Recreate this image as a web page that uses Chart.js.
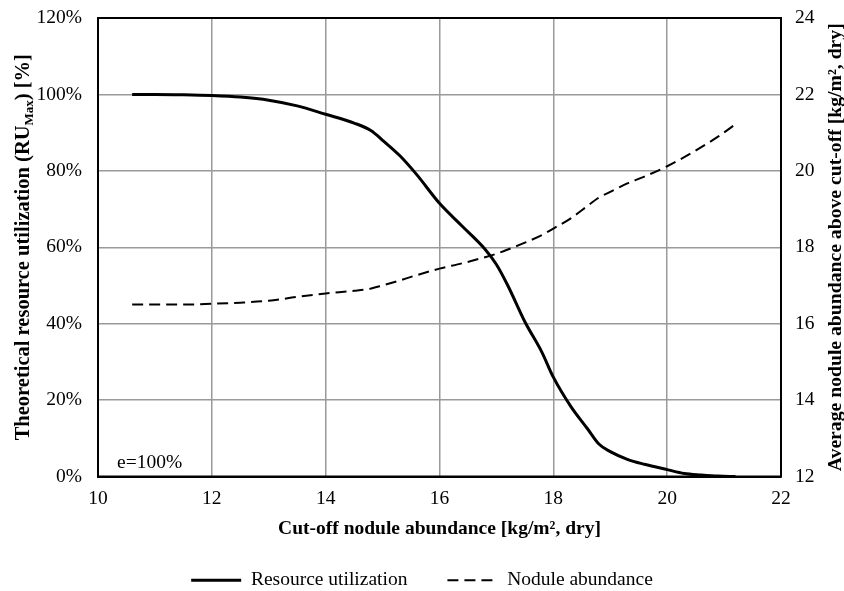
<!DOCTYPE html>
<html>
<head>
<meta charset="utf-8">
<script src="https://cdn.jsdelivr.net/npm/chart.js@4"></script>
<style>
  body { margin: 0; background: #fff; }
  canvas { display: block; }
</style>
</head>
<body>
<canvas id="cutoffChart" width="844" height="591"></canvas>
<script>
// --- data ---
const cutOff = [10.6, 11.0, 11.5, 12.0, 12.5, 13.0, 13.5, 14.0, 14.5, 14.8, 15.0, 15.3, 15.6, 16.0,
    16.4, 16.8, 17.0, 17.2, 17.5, 17.8, 18.0, 18.3, 18.6, 18.8, 19.0, 19.3, 19.6, 20.0, 20.3, 20.6, 20.9, 21.2];
const resourceUtil = [100, 100, 99.9, 99.7, 99.3, 98.5, 97.0, 94.8, 92.5, 90.5, 88.0, 84.0, 79.0, 71.5,
    65.5, 59.5, 55.5, 50.0, 40.5, 32.5, 26.0, 18.5, 12.5, 8.5, 6.5, 4.5, 3.2, 1.8, 0.8, 0.4, 0.1, 0.0];
const noduleAbund = [16.5, 16.5, 16.5, 16.52, 16.55, 16.6, 16.7, 16.79, 16.86, 16.92, 17.0, 17.13, 17.27, 17.44,
    17.58, 17.74, 17.83, 17.94, 18.12, 18.32, 18.49, 18.75, 19.08, 19.3, 19.45, 19.67, 19.85, 20.12, 20.36, 20.62, 20.9, 21.22];

const FONT = "'Liberation Serif', 'Times New Roman', serif";
const GRID = "#9a9a9a";
const TICK_SIZE = 19.5;

// titles are drawn by hand: left one needs a subscript, right one reads bottom-to-top
const titlesPlugin = {
    id: "titles",
    afterDraw(chart) {
        const ctx = chart.ctx;
        const a = chart.chartArea;
        ctx.save();
        // full frame around plot
        ctx.strokeStyle = "#000";
        ctx.lineWidth = 2;
        ctx.strokeRect(a.left, a.top, a.right - a.left, a.bottom - a.top);

        ctx.fillStyle = "#000";
        const midY = (a.top + a.bottom) / 2;

        // left axis title
        const p1 = "Theoretical resource utilization (RU";
        const sub = "Max";
        const p3 = ") [%]";
        ctx.save();
        ctx.translate(29, midY);
        ctx.rotate(-Math.PI / 2);
        ctx.textBaseline = "alphabetic";
        ctx.textAlign = "left";
        ctx.font = "bold 20.5px " + FONT;
        const w1 = ctx.measureText(p1).width;
        const w3 = ctx.measureText(p3).width;
        ctx.font = "bold 13px " + FONT;
        const w2 = ctx.measureText(sub).width;
        let x = -(w1 + w2 + w3) / 2;
        ctx.font = "bold 20.5px " + FONT;
        ctx.fillText(p1, x, 0);
        x += w1;
        ctx.font = "bold 13px " + FONT;
        ctx.fillText(sub, x, 4);
        x += w2;
        ctx.font = "bold 20.5px " + FONT;
        ctx.fillText(p3, x, 0);
        ctx.restore();

        // right axis title
        ctx.save();
        ctx.translate(841, midY);
        ctx.rotate(-Math.PI / 2);
        ctx.textAlign = "center";
        ctx.textBaseline = "alphabetic";
        ctx.font = "bold 19.7px " + FONT;
        ctx.fillText("Average nodule abundance above cut-off [kg/m\u00b2, dry]", 0, 0);
        ctx.restore();

        // efficiency note
        ctx.font = TICK_SIZE + "px " + FONT;
        ctx.textAlign = "left";
        ctx.textBaseline = "alphabetic";
        ctx.fillText("e=100%", 117, 468);
        ctx.restore();
    }
};

// keep tick-label overhang from pushing the plot area around
function noPad(s) {
    s.paddingTop = 0;
    s.paddingBottom = 0;
    s.paddingLeft = 0;
    s.paddingRight = 0;
}

const ctxCut = document.getElementById("cutoffChart").getContext("2d");

new Chart(ctxCut, {
    type: "line",
    data: {
        datasets: [
            {
                label: "Resource utilization",
                data: cutOff.map((c, i) => ({ x: c, y: resourceUtil[i] })),
                borderColor: "#000",
                backgroundColor: "#000",
                borderWidth: 3,
                pointRadius: 0,
                cubicInterpolationMode: "monotone",
                yAxisID: "y",
            },
            {
                label: "Nodule abundance",
                data: cutOff.map((c, i) => ({ x: c, y: noduleAbund[i] })),
                borderColor: "#000",
                backgroundColor: "#000",
                borderWidth: 2,
                borderDash: [11, 6],
                pointRadius: 0,
                cubicInterpolationMode: "monotone",
                yAxisID: "y1",
            },
        ],
    },
    options: {
        responsive: false,
        animation: false,
        layout: { padding: { left: 0, right: 0, top: 18, bottom: -9 } },
        scales: {
            x: {
                type: "linear",
                min: 10,
                max: 22,
                ticks: { stepSize: 2, padding: 11, color: "#000", font: { family: FONT, size: TICK_SIZE } },
                grid: { color: GRID, lineWidth: 1.5, drawTicks: false },
                border: { color: "#000", width: 2 },
                title: {
                    display: true,
                    text: "Cut-off nodule abundance [kg/m\u00b2, dry]",
                    color: "#000",
                    font: { family: FONT, size: 19.5, weight: "bold" },
                    padding: { top: 0, bottom: -10 },
                },
                afterFit: (s) => { s.height = 54; noPad(s); },
            },
            y: {
                position: "left",
                min: 0,
                max: 120,
                ticks: {
                    stepSize: 20,
                    padding: 16,
                    color: "#000",
                    font: { family: FONT, size: TICK_SIZE },
                    callback: (v) => v + "%",
                },
                grid: { color: GRID, lineWidth: 1.5, drawTicks: false },
                border: { color: "#000", width: 2 },
                afterFit: (s) => { s.width = 98; noPad(s); },
            },
            y1: {
                position: "right",
                min: 12,
                max: 24,
                ticks: { stepSize: 2, padding: 14, color: "#000", font: { family: FONT, size: TICK_SIZE } },
                grid: { display: false, drawTicks: false },
                border: { color: "#000", width: 2 },
                afterFit: (s) => { s.width = 63; noPad(s); },
            },
        },
        plugins: {
            legend: {
                position: "bottom",
                labels: {
                    color: "#000",
                    font: { family: FONT, size: TICK_SIZE },
                    usePointStyle: true,
                    pointStyle: "line",
                    pointStyleWidth: 50,
                    padding: 40,
                    generateLabels(chart) {
                        const items = Chart.defaults.plugins.legend.labels.generateLabels(chart);
                        items.forEach((it) => {
                            const ds = chart.data.datasets[it.datasetIndex];
                            it.lineDash = ds.borderDash || [];
                            it.lineWidth = ds.borderWidth;
                        });
                        return items;
                    },
                },
            },
            tooltip: { enabled: false },
        },
    },
    plugins: [titlesPlugin],
});
</script>
</body>
</html>
